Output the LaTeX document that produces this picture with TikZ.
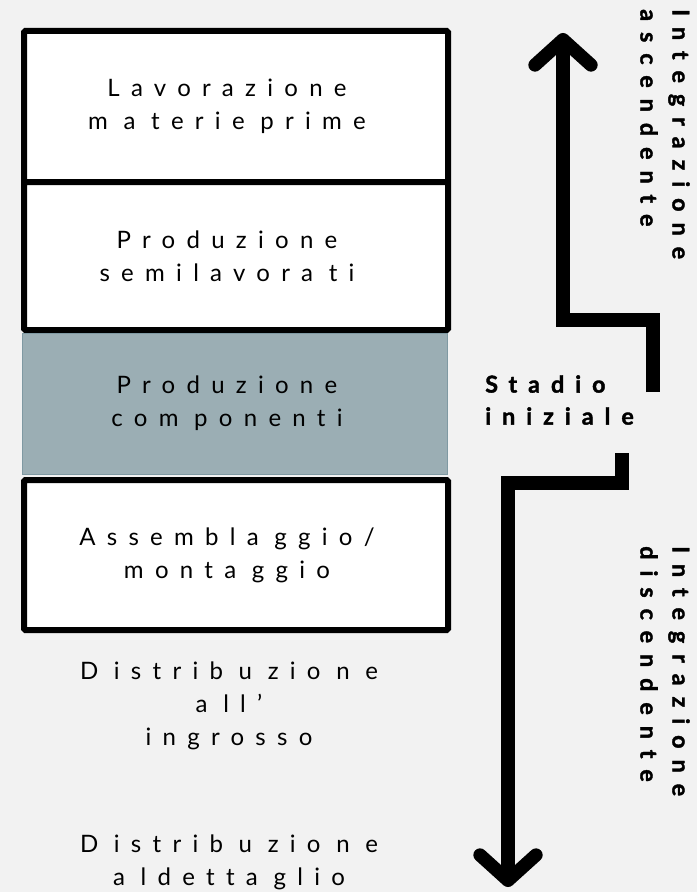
\documentclass[tikz,border=0pt]{standalone}
\usepackage{fontspec}
\setmainfont{Lato}
\newfontfamily\spacedfont[LetterSpace=47,WordSpace=0.9,Ligatures=NoCommon,
  BoldFeatures={FakeBold=1.6}]{Lato}
\usetikzlibrary{arrows.meta}
\definecolor{sfondo}{HTML}{F2F2F2}
\definecolor{grigioblu}{HTML}{9BAEB4}
\definecolor{bordoblu}{HTML}{7F99A2}

\begin{document}
\begin{tikzpicture}[x=0.75pt,y=-0.75pt,
    stagebox/.style={draw=black,line width=4.5pt,fill=white,rounded corners=1pt,
      minimum width=318pt,align=center,inner sep=0pt},
    stagetext/.style={align=center,inner sep=0pt,
      font=\spacedfont\fontsize{18}{24.75}\selectfont},
    sidetext/.style={align=left,inner sep=0pt,
      font=\spacedfont\bfseries\fontsize{17.5}{24}\selectfont},
    integrarrow/.style={line width=10pt,
      -{Straight Barb[length=19pt,width=42pt,round]}}]
                \fill[sfondo] (0,0) rectangle (697,892);
                \useasboundingbox (0,0) rectangle (697,892);
                % stadi della filiera
                \node[stagebox,minimum height=113.25pt] (materie) at (236,106.5) {};
                \node[stagebox,minimum height=111pt] (semilavorati) at (236,256) {};
                \node[fill=grigioblu,draw=bordoblu,line width=0.75pt,minimum width=318.75pt,
                  minimum height=105.75pt] (componenti) at (234.5,403.5) {};
                \node[stagebox,minimum height=112.5pt] (montaggio) at (236,555) {};
                \node[stagetext] at (227,106.5) {Lavorazione\\m a terie prime};
                \node[stagetext] at (227,256) {Produzione\\semilavora ti};
                \node[stagetext] at (227,403.5) {Produzione\\com ponenti};
                \node[stagetext] at (227,555) {Assembla ggio/\\monta ggio};
                \node[stagetext] (ingrosso) at (229,706) {D istrib u zio n e\\a ll’\\ingrosso};
                \node[stagetext] (dettaglio) at (229,862.5) {D istrib u zio n e\\a ldetta glio};
                % scritte laterali
                \node[sidetext,anchor=north west] (stadio) at (485,375) {Stadio\\iniziale};
                \node[sidetext,rotate=-90,anchor=north west] (ascendente) at (690,9) {Integrazione\\ascendente};
                \node[sidetext,rotate=-90,anchor=north west] (discendente) at (690,546) {Integrazione\\discendente};
                % frecce
                \coordinate (upstart) at (653,392);
                \coordinate (upend) at (563,33);
                \coordinate (downstart) at (622,453);
                \coordinate (downend) at (508,887);
                \draw[integrarrow] (upstart) |- (563,320) -- (upend);
                \draw[integrarrow] (downstart) |- (508,483) -- (downend);
            \end{tikzpicture}
\end{document}
